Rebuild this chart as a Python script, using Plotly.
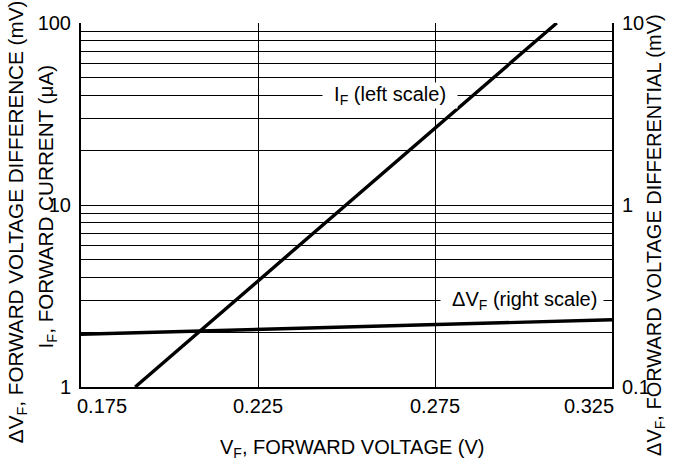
import math
import plotly.graph_objects as go

# ---- data ----
vf_if = [0.1903, 0.3094]          # V_F (V) for I_F line
if_ua = [1, 100]                   # I_F (uA)
vf_dv = [0.175, 0.225, 0.275, 0.325]
dvf_mv = [0.195, 0.207, 0.220, 0.234]   # delta V_F (mV), right scale

x_ticks = [0.175, 0.225, 0.275, 0.325]
x_ticktext = ["0.175", "0.225", "0.275", "0.325"]
y_left_ticks = [1, 10, 100]
y_left_labels = ["1", "10", "100"]
y_left_minor = [2, 3, 4, 5, 6, 7, 8, 9, 20, 30, 40, 50, 60, 70, 80, 90]
y_right_ticks = [0.1, 1, 10]
y_right_labels = ["0.1", "1", "10"]

FONT = "Liberation Sans, Arial, sans-serif"
FS = 20
FS_T = 20.7
W, H = 680, 466
L, R, T, B = 81, 68, 16, 79
PW, PH = W - L - R, H - T - B


def px(xp):
    return (xp - L) / PW


def py(yp):
    return (H - B - yp) / PH


fig = go.Figure()
fig.add_trace(go.Scatter(x=vf_if, y=if_ua, mode="lines",
                         line=dict(color="black", width=3.4),
                         showlegend=False, hoverinfo="skip"))
fig.add_trace(go.Scatter(x=vf_dv, y=dvf_mv, mode="lines", yaxis="y2",
                         line=dict(color="black", width=3.4),
                         showlegend=False, hoverinfo="skip"))

annotations = []
# x tick labels (edge labels sit inside the frame)
for i, (v, t) in enumerate(zip(x_ticks, x_ticktext)):
    if i == 0:
        anchor, xs = "left", -6
    elif i == len(x_ticks) - 1:
        anchor, xs = "right", 4
    else:
        anchor, xs = "center", 0
    annotations.append(dict(x=v, xref="x", y=0, yref="paper", text=t,
                            xanchor=anchor, yanchor="top", yshift=-6, xshift=xs,
                            showarrow=False, font=dict(family=FONT, size=FS, color="black")))

# axis titles
annotations.append(dict(x=px(352), y=py(450), xref="paper", yref="paper",
                        text="V<sub>F</sub>, FORWARD VOLTAGE (V)", showarrow=False,
                        xanchor="center", yanchor="middle",
                        font=dict(family=FONT, size=FS, color="black")))
annotations.append(dict(x=px(47), y=py(203), xref="paper", yref="paper",
                        text="I<sub>F</sub>, FORWARD CURRENT (μA)", showarrow=False,
                        textangle=-90, xanchor="center", yanchor="middle",
                        font=dict(family=FONT, size=FS_T, color="black")))
annotations.append(dict(x=px(17), y=py(219), xref="paper", yref="paper",
                        text="ΔV<sub>F</sub>, FORWARD VOLTAGE DIFFERENCE (mV)", showarrow=False,
                        textangle=-90, xanchor="center", yanchor="middle",
                        font=dict(family=FONT, size=FS_T, color="black")))
annotations.append(dict(x=px(656), y=py(232), xref="paper", yref="paper",
                        text="ΔV<sub>F</sub>, FORWARD VOLTAGE DIFFERENTIAL (mV)", showarrow=False,
                        textangle=-90, xanchor="center", yanchor="middle",
                        font=dict(family=FONT, size=FS, color="black")))

# curve labels
annotations.append(dict(x=0.2623, y=math.log10(40), xref="x", yref="y",
                        text="&nbsp;&nbsp;I<sub>F</sub> (left scale)&nbsp;&nbsp;", showarrow=False,
                        bgcolor="white", borderpad=0,
                        font=dict(family=FONT, size=FS, color="black")))
annotations.append(dict(x=0.2995, y=math.log10(3), xref="x", yref="y",
                        text="&nbsp;&nbsp;ΔV<sub>F</sub> (right scale)&nbsp;", showarrow=False,
                        bgcolor="white", borderpad=0,
                        font=dict(family=FONT, size=FS, color="black")))

fig.update_layout(
    width=W, height=H,
    margin=dict(l=L, r=R, t=T, b=B),
    paper_bgcolor="white", plot_bgcolor="white",
    font=dict(family=FONT, size=FS, color="black"),
    xaxis=dict(range=[0.175, 0.325], tickvals=x_ticks, showticklabels=False,
               showgrid=True, gridcolor="black", gridwidth=1, zeroline=False,
               showline=True, linecolor="black", linewidth=2, ticks=""),
    yaxis=dict(type="log", range=[0, 2], tickvals=y_left_ticks, ticktext=y_left_labels,
               showgrid=True, gridcolor="black", gridwidth=1, zeroline=False,
               minor=dict(tickvals=y_left_minor, showgrid=True, gridcolor="black",
                          gridwidth=1, ticks=""),
               showline=True, linecolor="black", linewidth=2, ticks="",
               ticklabelstandoff=4, tickfont=dict(family=FONT, size=FS, color="black")),
    yaxis2=dict(type="log", range=[-1, 1], overlaying="y", side="right",
                tickvals=y_right_ticks, ticktext=y_right_labels,
                showgrid=False, zeroline=False,
                showline=True, linecolor="black", linewidth=2, ticks="",
                ticklabelstandoff=4, tickfont=dict(family=FONT, size=FS, color="black")),
    annotations=annotations,
)

fig.write_html("out.html")
